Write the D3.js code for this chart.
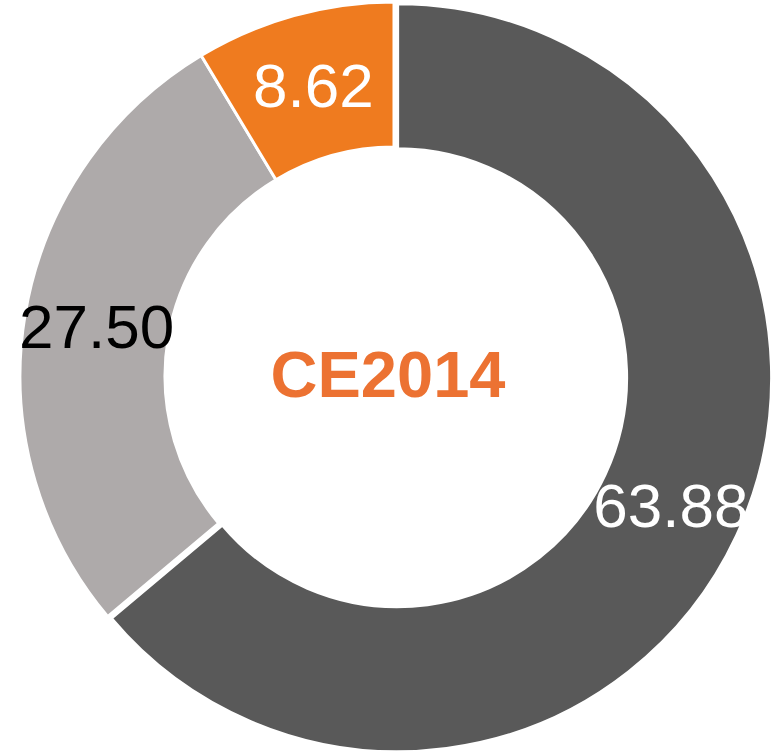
<!DOCTYPE html>
<html>
<head>
<meta charset="utf-8">
<script src="https://cdn.jsdelivr.net/npm/d3@7"></script>
<style>
  body { margin: 0; background: #fff; }
  svg { display: block; font-family: "Liberation Sans", Arial, sans-serif; }
</style>
</head>
<body>
<div id="chart"></div>
<script>
var categories = ["A", "B", "C"];
var values = [63.88, 27.50, 8.62];
var labels = ["63.88", "27.50", "8.62"];
var colors = ["#595959", "#AEAAAA", "#EF7B1F"];
var labelColors = ["#ffffff", "#000000", "#ffffff"];
var centerTitle = "CE2014";

var width = 774, height = 755;
var cx = 394, cy = 376;
var outerR = 374, innerR = 229;

var svg = d3
  .select("#chart")
  .append("svg")
  .attr("width", width)
  .attr("height", height);

var g = svg.append("g").attr("transform", "translate(" + cx + "," + cy + ")");

var data = categories.map(function (c, i) {
  return { cat: c, value: values[i], label: labels[i], color: colors[i], tc: labelColors[i] };
});

var pie = d3.pie().sort(null).value(function (d) { return d.value; });
var arc = d3.arc().innerRadius(innerR).outerRadius(outerR);

var arcs = pie(data);

// first slice is pulled out a little, like the original
function offset(d, i) {
  if (i != 0) return [0, 0];
  var a = (d.startAngle + d.endAngle) / 2;
  return [Math.sin(a) * 4, -Math.cos(a) * 4];
}

var slice = g
  .selectAll("g.slice")
  .data(arcs)
  .enter()
  .append("g")
  .attr("class", "slice")
  .attr("transform", function (d, i) {
    var o = offset(d, i);
    return "translate(" + o[0] + "," + o[1] + ")";
  });

slice
  .append("path")
  .attr("d", arc)
  .attr("fill", function (d) { return d.data.color; })
  .attr("stroke", "#fff")
  .attr("stroke-width", 3);

slice
  .append("text")
  .attr("transform", function (d) {
    return "translate(" + arc.centroid(d) + ")";
  })
  .attr("text-anchor", "middle")
  .attr("dy", "0.35em")
  .style("font-size", "62px")
  .attr("fill", function (d) { return d.data.tc; })
  .text(function (d) { return d.data.label; });

g.append("text")
  .attr("x", -6)
  .attr("y", 21)
  .attr("text-anchor", "middle")
  .style("font-size", "65px")
  .style("font-weight", "bold")
  .attr("fill", "#EC7232")
  .text(centerTitle);
</script>
</body>
</html>
